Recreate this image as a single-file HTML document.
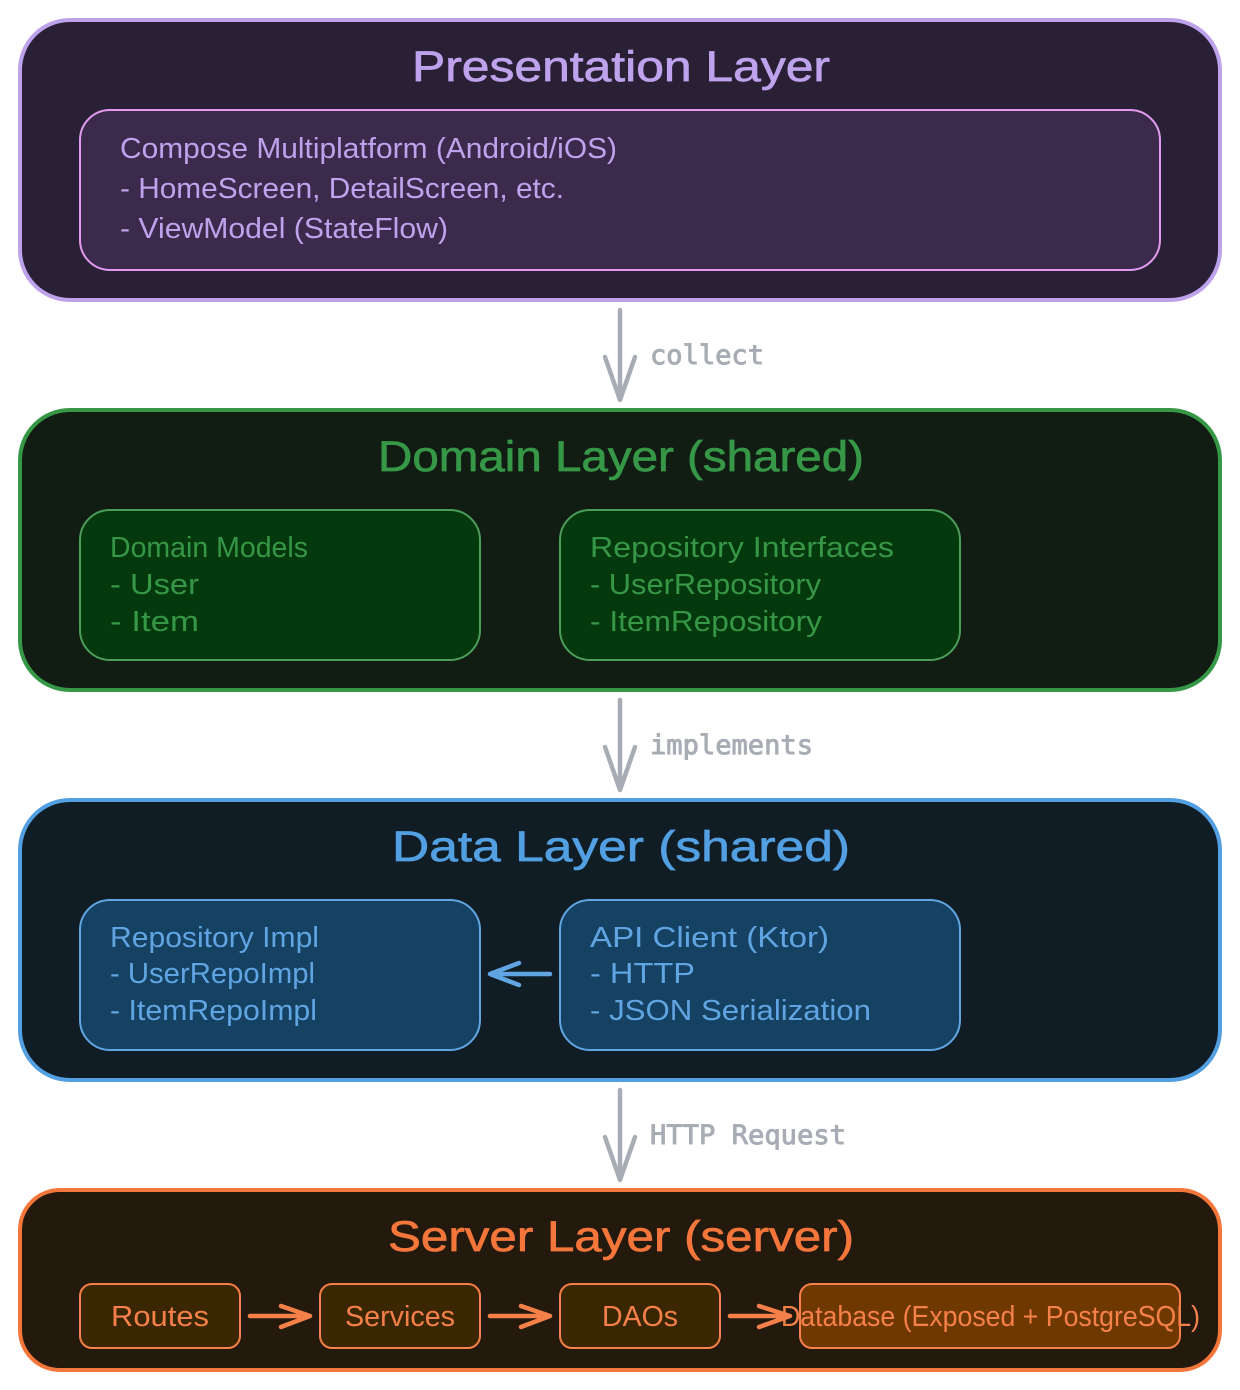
<!DOCTYPE html>
<html><head><meta charset="utf-8"><style>
html,body{margin:0;padding:0;background:#fff}
svg{display:block}
text{font-family:"Liberation Sans",sans-serif}
.t{font-size:43px;stroke-width:.7px}
.b{font-size:29px}
.m{font-family:"DejaVu Sans Mono","Liberation Mono",monospace;font-size:27px;font-weight:normal;fill:#a8adb5;stroke:#a8adb5;stroke-width:.9px}
.s{stroke-linecap:round;stroke-linejoin:round;fill:none}
</style></head><body>
<svg width="1240" height="1390" viewBox="0 0 1240 1390" xmlns="http://www.w3.org/2000/svg">
<rect width="1240" height="1390" fill="#fff"/>

<rect x="20" y="20" width="1200" height="280" rx="50" fill="#2a2035" stroke="#bea3ec" stroke-width="4"/>
<text class="t" x="412" y="81" fill="#bea3ec" stroke="#bea3ec" textLength="418" lengthAdjust="spacingAndGlyphs">Presentation Layer</text>
<rect x="80" y="110" width="1080" height="160" rx="30" fill="#3c2a4d" stroke="#e19af0" stroke-width="2"/>
<g class="b" fill="#bea3ec">
<text x="120" y="158" textLength="497" lengthAdjust="spacingAndGlyphs">Compose Multiplatform (Android/iOS)</text>
<text x="120" y="198" textLength="444" lengthAdjust="spacingAndGlyphs">- HomeScreen, DetailScreen, etc.</text>
<text x="120" y="238" textLength="328" lengthAdjust="spacingAndGlyphs">- ViewModel (StateFlow)</text>
</g>

<path class="s" d="M620 310V399M605 357L620 400L635 357" stroke="#a8adb5" stroke-width="4.5"/>
<text class="m" x="650" y="364" textLength="114" lengthAdjust="spacingAndGlyphs">collect</text>

<rect x="20" y="410" width="1200" height="280" rx="50" fill="#111c13" stroke="#369746" stroke-width="4"/>
<text class="t" x="378" y="471" fill="#369746" stroke="#369746" textLength="486" lengthAdjust="spacingAndGlyphs">Domain Layer (shared)</text>
<rect x="80" y="510" width="400" height="150" rx="30" fill="#04390d" stroke="#4c9d5a" stroke-width="2"/>
<rect x="560" y="510" width="400" height="150" rx="30" fill="#04390d" stroke="#4c9d5a" stroke-width="2"/>
<g class="b" fill="#369746">
<text x="110" y="557" textLength="198" lengthAdjust="spacingAndGlyphs">Domain Models</text>
<text x="110" y="594" textLength="89" lengthAdjust="spacingAndGlyphs">- User</text>
<text x="110" y="631" textLength="89" lengthAdjust="spacingAndGlyphs">- Item</text>
<text x="590" y="557" textLength="304" lengthAdjust="spacingAndGlyphs">Repository Interfaces</text>
<text x="590" y="594" textLength="231" lengthAdjust="spacingAndGlyphs">- UserRepository</text>
<text x="590" y="631" textLength="232" lengthAdjust="spacingAndGlyphs">- ItemRepository</text>
</g>

<path class="s" d="M620 700V789M605 747L620 790L635 747" stroke="#a8adb5" stroke-width="4.5"/>
<text class="m" x="650" y="754" textLength="163" lengthAdjust="spacingAndGlyphs">implements</text>

<rect x="20" y="800" width="1200" height="280" rx="50" fill="#111d25" stroke="#529fe2" stroke-width="4"/>
<text class="t" x="392" y="861" fill="#529fe2" stroke="#529fe2" textLength="458" lengthAdjust="spacingAndGlyphs">Data Layer (shared)</text>
<rect x="80" y="900" width="400" height="150" rx="30" fill="#154162" stroke="#60a5e2" stroke-width="2"/>
<rect x="560" y="900" width="400" height="150" rx="30" fill="#154162" stroke="#60a5e2" stroke-width="2"/>
<g class="b" fill="#60a5e2">
<text x="110" y="947" textLength="209" lengthAdjust="spacingAndGlyphs">Repository Impl</text>
<text x="110" y="983" textLength="205" lengthAdjust="spacingAndGlyphs">- UserRepoImpl</text>
<text x="110" y="1020" textLength="207" lengthAdjust="spacingAndGlyphs">- ItemRepoImpl</text>
<text x="590" y="947" textLength="239" lengthAdjust="spacingAndGlyphs">API Client (Ktor)</text>
<text x="590" y="983" textLength="105" lengthAdjust="spacingAndGlyphs">- HTTP</text>
<text x="590" y="1020" textLength="281" lengthAdjust="spacingAndGlyphs">- JSON Serialization</text>
</g>
<path class="s" d="M550 974H490M519 963L490 974L519 985" stroke="#60a5e2" stroke-width="4.5"/>

<path class="s" d="M620 1090V1179M605 1137L620 1180L635 1137" stroke="#a8adb5" stroke-width="4.5"/>
<text class="m" x="650" y="1144" textLength="196" lengthAdjust="spacingAndGlyphs">HTTP Request</text>

<rect x="20" y="1190" width="1200" height="180" rx="40" fill="#23190d" stroke="#f5763a" stroke-width="4"/>
<text class="t" x="388" y="1251" fill="#f5763a" stroke="#f5763a" textLength="466" lengthAdjust="spacingAndGlyphs">Server Layer (server)</text>
<g fill="#3a2600" stroke="#f5804a" stroke-width="2">
<rect x="80" y="1284" width="160" height="64" rx="12"/>
<rect x="320" y="1284" width="160" height="64" rx="12"/>
<rect x="560" y="1284" width="160" height="64" rx="12"/>
<rect x="800" y="1284" width="380" height="64" rx="12" fill="#6f3800"/>
</g>
<g class="s" stroke="#f5804a" stroke-width="4.5">
<path d="M250 1316H310M281 1306L310 1316L281 1327"/>
<path d="M490 1316H550M521 1306L550 1316L521 1327"/>
<path d="M730 1316H790M759 1306L790 1316L759 1327"/>
</g>
<g class="b" fill="#f5804a">
<text x="111" y="1326" textLength="98" lengthAdjust="spacingAndGlyphs">Routes</text>
<text x="345" y="1326" textLength="110" lengthAdjust="spacingAndGlyphs">Services</text>
<text x="602" y="1326" textLength="76" lengthAdjust="spacingAndGlyphs">DAOs</text>
<text x="781" y="1326" textLength="419" lengthAdjust="spacingAndGlyphs">Database (Exposed + PostgreSQL)</text>
</g>
</svg>
</body></html>
